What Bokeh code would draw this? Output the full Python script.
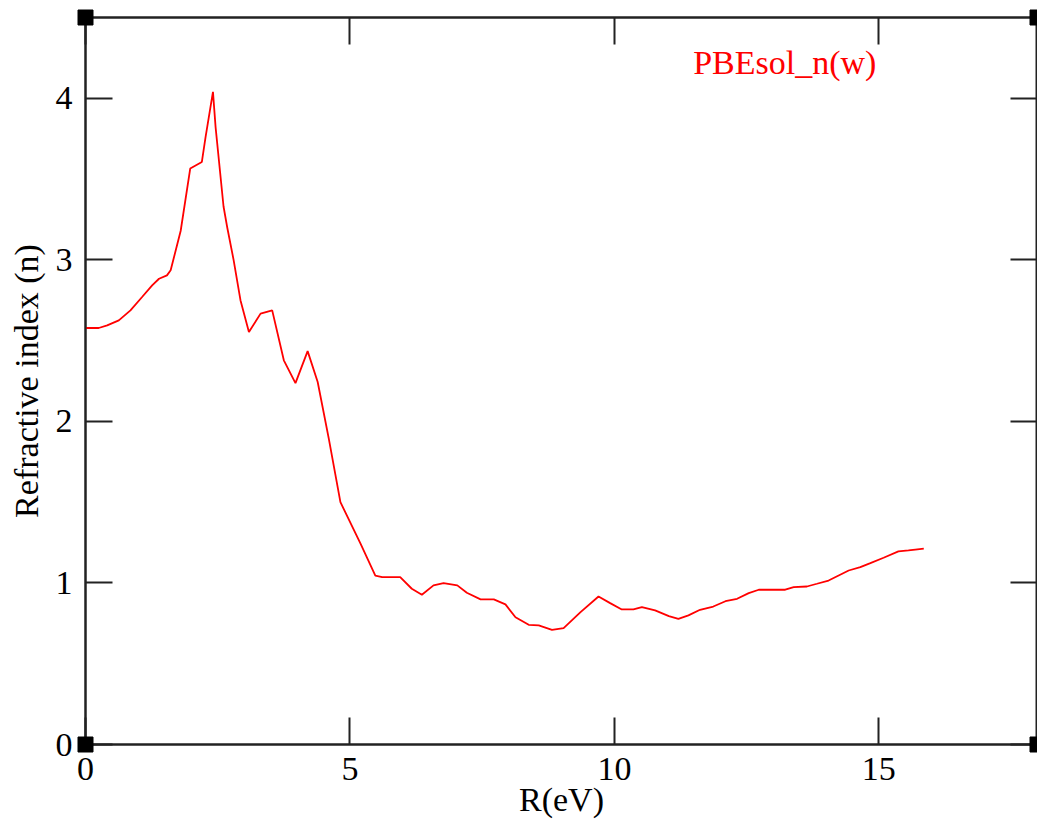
from bokeh.plotting import figure
from bokeh.models import LinearAxis, Range1d, Label, FixedTicker
from bokeh.embed import file_html
from bokeh.resources import INLINE

# Data
energy = [0.00, 0.25, 0.41, 0.63, 0.85, 1.07, 1.26, 1.39, 1.54, 1.61, 1.80, 1.98,
          2.20, 2.27, 2.41, 2.46, 2.61, 2.68, 2.80, 2.93, 3.09, 3.31, 3.53, 3.75,
          3.97, 4.20, 4.39, 4.60, 4.82, 5.20, 5.48, 5.61, 5.95, 6.17, 6.36, 6.58,
          6.77, 7.03, 7.21, 7.47, 7.72, 7.94, 8.13, 8.38, 8.57, 8.82, 9.04, 9.36,
          9.70, 9.92, 10.14, 10.36, 10.52, 10.77, 11.03, 11.21, 11.40, 11.62, 11.87,
          12.10, 12.32, 12.54, 12.73, 13.23, 13.39, 13.64, 13.83, 14.05, 14.24, 14.43,
          14.65, 14.84, 15.09, 15.37, 15.56, 15.69, 15.85]
n_index = [2.578, 2.578, 2.594, 2.625, 2.687, 2.770, 2.842, 2.883, 2.904, 2.935, 3.18, 3.565,
           3.606, 3.76, 4.04, 3.82, 3.33, 3.20, 3.00, 2.75, 2.553, 2.667, 2.687, 2.378,
           2.237, 2.435, 2.244, 1.893, 1.50, 1.243, 1.046, 1.036, 1.036, 0.964, 0.927, 0.985,
           0.999, 0.985, 0.939, 0.898, 0.898, 0.867, 0.788, 0.741, 0.737, 0.710, 0.720, 0.819,
           0.916, 0.875, 0.836, 0.836, 0.850, 0.830, 0.795, 0.778, 0.799, 0.834, 0.854,
           0.887, 0.902, 0.937, 0.958, 0.958, 0.974, 0.978, 0.995, 1.015, 1.046, 1.077,
           1.098, 1.123, 1.156, 1.195, 1.201, 1.206, 1.212]

x_ticks = [0, 5, 10, 15]
y_ticks = [0, 1, 2, 3, 4]
x_lim = (0, 18)
y_lim = (0, 4.5)
series_name = "PBEsol_n(w)"

FONT = "Liberation Serif"
AX_COLOR = "#222222"

p = figure(width=1037, height=830, x_range=Range1d(*x_lim), y_range=Range1d(*y_lim),
           output_backend="svg", toolbar_location=None,
           min_border_left=85, min_border_top=17, min_border_right=0, min_border_bottom=86,
           x_axis_label="R(eV)", y_axis_label="Refractive index (n)")
p.grid.visible = False
p.background_fill_color = "white"
p.border_fill_color = "white"
p.outline_line_color = AX_COLOR
p.outline_line_width = 2

for ax, ticks in ((p.xaxis[0], x_ticks), (p.yaxis[0], y_ticks)):
    ax.ticker = FixedTicker(ticks=ticks)
    ax.major_tick_in = 27
    ax.major_tick_out = 0
    ax.minor_tick_line_color = None
    ax.axis_line_color = AX_COLOR
    ax.axis_line_width = 2
    ax.major_tick_line_color = AX_COLOR
    ax.major_tick_line_width = 2
    ax.major_label_text_font = FONT
    ax.major_label_text_font_size = "34px"
    ax.major_label_text_color = "black"
    ax.axis_label_text_font = FONT
    ax.axis_label_text_font_size = "34px"
    ax.axis_label_text_font_style = "normal"
    ax.axis_label_text_color = "black"

p.xaxis[0].major_label_standoff = 13
p.xaxis[0].axis_label_standoff = -2
p.yaxis[0].major_label_standoff = 13
p.yaxis[0].axis_label_standoff = 8

for loc, ticks in (("right", y_ticks), ("above", x_ticks)):
    ax = LinearAxis(ticker=FixedTicker(ticks=ticks))
    ax.major_tick_in = 27
    ax.major_tick_out = 0
    ax.minor_tick_line_color = None
    ax.axis_line_color = AX_COLOR
    ax.axis_line_width = 2
    ax.major_tick_line_color = AX_COLOR
    ax.major_tick_line_width = 2
    ax.major_label_overrides = {t: "" for t in ticks}
    ax.major_label_text_font_size = "2px"
    ax.major_label_standoff = 0
    p.add_layout(ax, loc)

p.line(energy, n_index, line_color="#ff0000", line_width=1.8)

# corner markers (drawn above the frame so they are not clipped)
corners = p.scatter([x_lim[0], x_lim[0], x_lim[1], x_lim[1]], [y_lim[0], y_lim[1], y_lim[0], y_lim[1]],
                    marker="square", size=15, fill_color="black", line_color="black")
corners.level = "overlay"

p.add_layout(Label(x=11.49, y=4.221, text=series_name, text_color="#ff0000",
                   text_font=FONT, text_font_size="34px", text_baseline="alphabetic"))

open("out.html", "w").write(file_html(p, INLINE))
